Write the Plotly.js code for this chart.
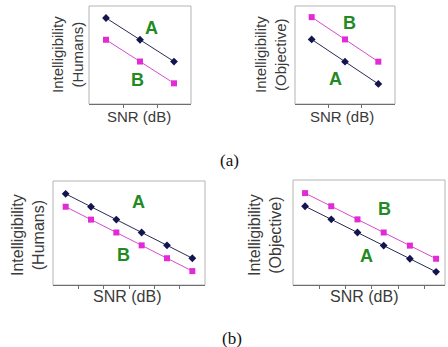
<!DOCTYPE html>
<html><head><meta charset="utf-8">
<script src="https://cdn.plot.ly/plotly-3.0.1.min.js"></script>
<style>html,body{margin:0;padding:0;background:#fff}#c{width:448px;height:347px}</style>
</head><body><div id="c"></div>
<script>
// Data (arbitrary intelligibility units; axes carry no numbers)
const xTop = [0, 1, 2];
const xBot = [0, 1, 2, 3, 4, 5];
const humansTopA = [90, 70, 50];
const humansTopB = [70, 50, 30];
const objTopA = [70, 50, 30];
const objTopB = [90, 70, 50];
const humansBotA = [90, 80, 70, 60, 50, 40];
const humansBotB = [80, 70, 60, 50, 40, 30];
const objBotA = [80, 70, 60, 50, 40, 30];
const objBotB = [90, 80, 70, 60, 50, 40];
const xTitle = "SNR (dB)";
const yTitleHumans = "Intelligibility<br>(Humans)";
const yTitleObj = "Intelligibility<br>(Objective)";
const panelLabels = ["(a)", "(b)"];

const W = 448, H = 347;
const px = v => v / W, py = v => 1 - v / H;

const colA = "#14144e", colB = "#e22ad6";
function tA(x, y, xa, ya) {
  return {x, y, xaxis: xa, yaxis: ya, type: "scatter", mode: "lines+markers",
    line: {color: "#2a2a55", width: 1}, marker: {symbol: "diamond", size: 6, color: colA}, showlegend: false, hoverinfo: "skip"};
}
function tB(x, y, xa, ya) {
  return {x, y, xaxis: xa, yaxis: ya, type: "scatter", mode: "lines+markers",
    line: {color: "#d84ad0", width: 1}, marker: {symbol: "square", size: 6, color: colB}, showlegend: false, hoverinfo: "skip"};
}
const data = [
  tA(xTop, humansTopA, "x", "y"), tB(xTop, humansTopB, "x", "y"),
  tA(xTop, objTopA, "x2", "y2"), tB(xTop, objTopB, "x2", "y2"),
  tA(xBot, humansBotA, "x3", "y3"), tB(xBot, humansBotB, "x3", "y3"),
  tA(xBot, objBotA, "x4", "y4"), tB(xBot, objBotB, "x4", "y4")
];

function xax(d, range, tv, anchor) {
  return {domain: d, range, anchor, showgrid: false, zeroline: false, showticklabels: false,
    showline: true, linecolor: "#6e6e6e", linewidth: 1, ticks: "outside", ticklen: 3, tickcolor: "#6e6e6e",
    tickvals: tv, fixedrange: true};
}
function yax(d, range, anchor) {
  return {domain: d, range, anchor, showgrid: false, zeroline: false, showticklabels: false,
    showline: false, ticks: "", fixedrange: true};
}

const layout = {
  width: W, height: H, margin: {l: 0, r: 0, t: 0, b: 0},
  paper_bgcolor: "#fff", plot_bgcolor: "#fff",
  font: {family: "Liberation Sans, Arial, sans-serif", color: "#333"},
  xaxis: xax([px(89), px(191)], [-0.5, 2.5], [0.5, 1.5], "y"),
  yaxis: yax([py(104), py(6)], [11, 101], "x"),
  xaxis2: xax([px(295), px(395)], [-0.5, 2.5], [0.5, 1.5], "y2"),
  yaxis2: yax([py(104), py(6)], [12, 100], "x2"),
  xaxis3: xax([px(53), px(205)], [-0.5, 5.5], [0.5, 1.5, 2.5, 3.5, 4.5], "y3"),
  yaxis3: yax([py(285), py(181)], [19.2, 100], "x3"),
  xaxis4: xax([px(293), px(445)], [-0.46, 5.34], [0.55, 1.55, 2.55, 3.55, 4.55], "y4"),
  yaxis4: yax([py(285), py(180)], [20, 100], "x4"),
  shapes: [
    ["x", "y"], ["x2", "y2"], ["x3", "y3"], ["x4", "y4"]
  ].map(([xa, ya]) => ({type: "rect", xref: xa + " domain", yref: ya + " domain", x0: 0, x1: 1, y0: 0, y1: 1,
      line: {color: "#b4b4b4", width: 1}, layer: "below"})),
  annotations: []
};

const green = "#238a23";
function lab(t, x, y) {
  return {text: "<b>" + t + "</b>", x: px(x), y: py(y), xref: "paper", yref: "paper", showarrow: false,
    xanchor: "center", yanchor: "middle", font: {size: 18, color: green, family: "Liberation Sans, Arial, sans-serif"}};
}
function txt(t, x, y, size, angle, fam) {
  return {text: t, x: px(x), y: py(y), xref: "paper", yref: "paper", showarrow: false,
    xanchor: "center", yanchor: "middle", textangle: angle || 0,
    font: {size, color: fam ? "#111" : "#3a3a3a", family: fam || "Liberation Sans, Arial, sans-serif"}};
}
layout.annotations.push(
  lab("A", 151, 28), lab("B", 137, 80),
  lab("B", 349, 23), lab("A", 335, 79),
  lab("A", 138, 202), lab("B", 123, 255),
  lab("B", 384, 209), lab("A", 366, 256),
  txt(yTitleHumans, 67, 55, 15, -90), txt(yTitleObj, 270, 55, 15, -90),
  txt(yTitleHumans, 28, 235, 16, -90), txt(yTitleObj, 265, 235, 16, -90),
  txt(xTitle, 139, 117, 15), txt(xTitle, 342, 117, 15),
  txt(xTitle, 127, 296, 16), txt(xTitle, 364, 296, 16),
  txt(panelLabels[0], 230, 160, 17, 0, "Liberation Serif, Times New Roman, serif"),
  txt(panelLabels[1], 232, 338, 17, 0, "Liberation Serif, Times New Roman, serif")
);

Plotly.newPlot("c", data, layout, {staticPlot: true, displayModeBar: false});
</script></body></html>
